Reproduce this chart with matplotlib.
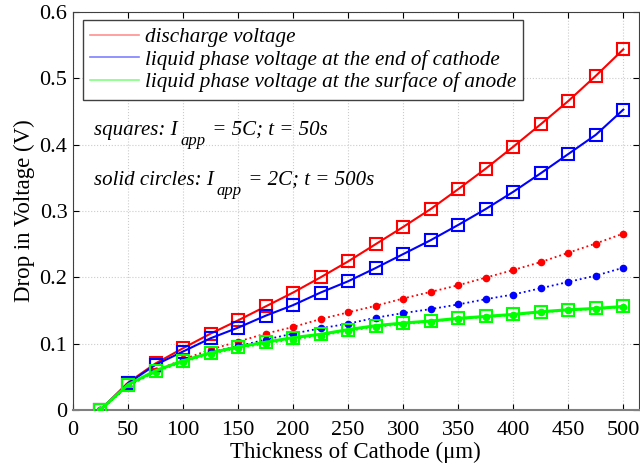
import numpy as np
import matplotlib
matplotlib.use("Agg")
import matplotlib.pyplot as plt
from matplotlib.lines import Line2D

plt.rcParams['font.family'] = ['Liberation Serif', 'DejaVu Serif']

# thickness of cathode (um)
thickness = [25, 50, 75, 100, 125, 150, 175, 200, 225, 250,
             275, 300, 325, 350, 375, 400, 425, 450, 475, 500]

# squares: I_app = 5C, t = 50s
discharge_5c = [0, 0.041, 0.070, 0.093, 0.115, 0.135, 0.156, 0.177, 0.200, 0.224,
                0.250, 0.276, 0.303, 0.333, 0.364, 0.397, 0.431, 0.466, 0.504, 0.544]
cathode_5c = [0, 0.040, 0.068, 0.088, 0.108, 0.124, 0.142, 0.158, 0.177, 0.194,
              0.214, 0.235, 0.256, 0.279, 0.303, 0.329, 0.357, 0.386, 0.415, 0.453]
anode_5c = [0, 0.038, 0.059, 0.074, 0.086, 0.095, 0.102, 0.109, 0.114, 0.121,
            0.127, 0.131, 0.134, 0.138, 0.141, 0.144, 0.148, 0.151, 0.153, 0.156]

# solid circles: I_app = 2C, t = 500s
discharge_2c = [0, 0.036, 0.059, 0.076, 0.091, 0.103, 0.115, 0.125, 0.137, 0.147,
                0.157, 0.168, 0.178, 0.188, 0.1995, 0.211, 0.223, 0.237, 0.251, 0.266]
cathode_2c = [0, 0.036, 0.058, 0.074, 0.087, 0.096, 0.106, 0.115, 0.123, 0.130,
              0.139, 0.146, 0.152, 0.159, 0.167, 0.174, 0.1835, 0.193, 0.2025, 0.2145]
anode_2c = [0, 0.036, 0.057, 0.072, 0.084, 0.093, 0.100, 0.106, 0.112, 0.119,
            0.125, 0.129, 0.133, 0.137, 0.140, 0.143, 0.147, 0.150, 0.152, 0.155]

labels = ['discharge voltage',
          'liquid phase voltage at the end of cathode',
          'liquid phase voltage at the surface of anode']

# annotation pieces: main text, subscript, rest
notes = [('squares: I', 'app', ' = 5C; t = 50s', 0.415),
         ('solid circles: I', 'app', ' = 2C; t = 500s', 0.339)]

fig = plt.figure(figsize=(6.4, 4.7), dpi=100)
ax = fig.add_axes([0.114, 0.128, 0.884, 0.846])

red, blue, green = '#ff0000', '#0000ff', '#00ff00'

# solid circles, dotted lines
for y, c in [(discharge_2c, red), (cathode_2c, blue), (anode_2c, green)]:
    ax.plot(thickness, y, ':', color=c, lw=1.3, marker='o', ms=4.5,
            mfc=c, mec=c, zorder=3)

# squares, solid lines
for y, c, lw in [(discharge_5c, red, 1.5), (cathode_5c, blue, 1.5), (anode_5c, green, 2.2)]:
    ax.plot(thickness, y, '-', color=c, lw=lw, marker='s', ms=8.5,
            mfc='none', mec=c, mew=1.5, zorder=4)

ax.set_xlim(0, 514)
ax.set_ylim(0, 0.6)
ax.set_xticks(np.arange(0, 501, 50))
ax.set_yticks(np.arange(0, 0.61, 0.1))
ax.set_yticklabels(['0', '0.1', '0.2', '0.3', '0.4', '0.5', '0.6'])
ax.tick_params(direction='in', top=True, right=True, labelsize=16, length=4)
ax.tick_params(axis='x', pad=8)
ax.tick_params(axis='y', pad=4)
ax.grid(True, color='#cccccc', linestyle=':', lw=0.8)
ax.set_axisbelow(True)
for s in ax.spines.values():
    s.set_color('#404040')
ax.spines['bottom'].set_color('#808080')
ax.spines['bottom'].set_linewidth(1.5)

ax.set_xlabel('Thickness of Cathode (\u03bcm)', fontsize=16.5, labelpad=1)
ax.set_ylabel('Drop in Voltage (V)', fontsize=16.5, labelpad=3)

handles = [Line2D([], [], color='#ff9090', lw=1.2),
           Line2D([], [], color='#8080ff', lw=1.2),
           Line2D([], [], color='#80ff80', lw=1.2)]
leg = ax.legend(handles, labels, loc='upper left', bbox_to_anchor=(0.017, 0.98),
                borderaxespad=0, fancybox=False, framealpha=1, edgecolor='#404040',
                prop={'style': 'italic', 'size': 15.2}, handlelength=2.3,
                labelspacing=0.12, borderpad=0.35, handletextpad=0.3)
leg.get_frame().set_linewidth(1.0)

for main, sub, rest, yv in notes:
    t1 = ax.text(19, yv, main, fontsize=15, style='italic', va='baseline')
    t2 = ax.annotate(sub, xy=(1, yv), xycoords=(t1, 'data'), xytext=(2, -7),
                     textcoords='offset points', fontsize=12, style='italic',
                     va='baseline')
    ax.annotate(rest, xy=(1, yv), xycoords=(t2, 'data'), xytext=(1, 0),
                textcoords='offset points', fontsize=15, style='italic',
                va='baseline')

fig.savefig('out.png', dpi=100)
